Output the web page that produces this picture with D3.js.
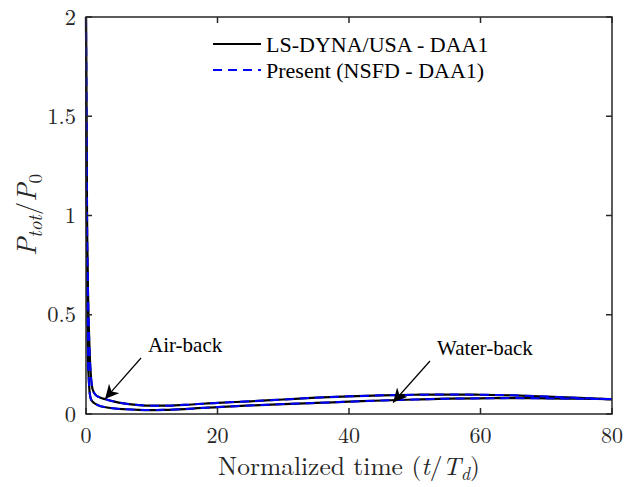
<!DOCTYPE html>
<html><head><meta charset="utf-8">
<script src="https://cdn.jsdelivr.net/npm/d3@7"></script>
<style>body{margin:0;background:#fff;}</style></head>
<body><svg id="c" width="643" height="487"></svg>
<script>
// ---- data ----
const timeAir = [0,0.05,0.1,0.2,0.3,0.4,0.5,0.6,0.8,1,1.5,2,3,4,6,8,10,12,15,20,25,30,35,40,45,50,55,60,65,70,75,80];
const ptotAir = [2.0,1.6,1.25,0.85,0.62,0.47,0.36,0.27,0.17,0.125,0.095,0.085,0.074,0.065,0.052,0.045,0.042,0.042,0.046,0.056,0.064,0.073,0.082,0.089,0.094,0.097,0.098,0.097,0.094,0.088,0.081,0.074];
const timeWater = [0,0.05,0.1,0.2,0.3,0.4,0.5,0.7,1,1.5,2,3,4,6,8,10,12,15,20,25,30,35,40,45,50,55,60,65,70,75,80];
const ptotWater = [2.0,1.5,1.1,0.6,0.28,0.19,0.13,0.08,0.062,0.05,0.042,0.034,0.029,0.024,0.021,0.02,0.021,0.025,0.035,0.043,0.05,0.056,0.062,0.068,0.073,0.077,0.079,0.08,0.079,0.077,0.075];
const xTicks = [0,20,40,60,80];
const yTicks = [0,0.5,1,1.5,2];
const yTickLabels = ["0","0.5","1","1.5","2"];
const legendLabels = ["LS-DYNA/USA - DAA1","Present (NSFD - DAA1)"];
const annotations = [
  {label:"Air-back", t:2.9, v:0.076},
  {label:"Water-back", t:46.7, v:0.058}
];

// ---- layout ----
const svg = d3.select("#c");
const L=86, R=612, T=17, B=414;
const x = d3.scaleLinear().domain([0,80]).range([L,R]);
const y = d3.scaleLinear().domain([0,2]).range([B,T]);
const LM = "'Latin Modern Roman'";
const TM = "'Liberation Serif'";

const line = d3.line().x(d=>x(d[0])).y(d=>y(d[1])).curve(d3.curveMonotoneX);
const series = [d3.zip(timeAir,ptotAir), d3.zip(timeWater,ptotWater)];

const g = svg.append("g");
series.forEach(s=>{
  g.append("path").attr("d",line(s)).attr("fill","none").attr("stroke","#000").attr("stroke-width",2.2);
});
series.forEach(s=>{
  g.append("path").attr("d",line(s)).attr("fill","none").attr("stroke","#0000ff").attr("stroke-width",2).attr("stroke-dasharray","9,6");
});

// axes box
const ax = svg.append("g");
ax.append("rect").attr("x",L).attr("y",T).attr("width",R-L).attr("height",B-T)
  .attr("fill","none").attr("stroke","#262626").attr("stroke-width",1.5);
const tl=6;
xTicks.forEach(t=>{
  ax.append("line").attr("x1",x(t)).attr("x2",x(t)).attr("y1",B).attr("y2",B-tl).attr("stroke","#262626").attr("stroke-width",1.5);
  ax.append("line").attr("x1",x(t)).attr("x2",x(t)).attr("y1",T).attr("y2",T+tl).attr("stroke","#262626").attr("stroke-width",1.5);
  ax.append("text").attr("x",x(t)).attr("y",443).attr("text-anchor","middle").attr("font-family",LM).attr("font-size",22).attr("fill","#262626").text(t);
});
yTicks.forEach((t,i)=>{
  ax.append("line").attr("x1",L).attr("x2",L+tl).attr("y1",y(t)).attr("y2",y(t)).attr("stroke","#262626").attr("stroke-width",1.5);
  ax.append("line").attr("x1",R).attr("x2",R-tl).attr("y1",y(t)).attr("y2",y(t)).attr("stroke","#262626").attr("stroke-width",1.5);
  ax.append("text").attr("x",L-10).attr("y",y(t)+7.5).attr("text-anchor","end").attr("font-family",LM).attr("font-size",22.5).attr("fill","#262626").text(yTickLabels[i]);
});

// x label
const xl = ax.append("text").attr("x",(L+R)/2).attr("y",475).attr("text-anchor","middle").attr("font-family",LM).attr("font-size",25.5).attr("fill","#262626");
xl.append("tspan").text("Normalized time (");
xl.append("tspan").attr("font-style","italic").text("t");
xl.append("tspan").text("/");
xl.append("tspan").attr("font-style","italic").text("T");
xl.append("tspan").attr("font-style","italic").attr("font-size",18).attr("dy",5).text("d");
xl.append("tspan").attr("dy",-5).text(")");

// y label
const yl = ax.append("text").attr("transform","translate(36,215) rotate(-90)").attr("text-anchor","middle").attr("font-family",LM).attr("font-size",27).attr("fill","#262626");
yl.append("tspan").attr("font-style","italic").text("P");
yl.append("tspan").attr("font-style","italic").attr("font-size",19).attr("dy",6).text("tot");
yl.append("tspan").attr("dy",-6).text("/");
yl.append("tspan").attr("font-style","italic").text("P");
yl.append("tspan").attr("font-size",19).attr("dy",6).text("0");

// legend
const lg = svg.append("g");
const legY=[44,70];
lg.append("line").attr("x1",213).attr("x2",261).attr("y1",legY[0]).attr("y2",legY[0]).attr("stroke","#000").attr("stroke-width",2.2);
lg.append("line").attr("x1",213).attr("x2",261).attr("y1",legY[1]).attr("y2",legY[1]).attr("stroke","#0000ff").attr("stroke-width",2).attr("stroke-dasharray","9,6");
legendLabels.forEach((lab,i)=>{
  lg.append("text").attr("x",266).attr("y",legY[i]+8).style("font-family",TM).style("font-size","22px").text(lab);
});

// annotations
svg.append("defs").append("marker").attr("id","ah").attr("viewBox","0 0 10 10").attr("refX",10).attr("refY",5)
  .attr("markerWidth",14).attr("markerHeight",14).attr("markerUnits","userSpaceOnUse").attr("orient","auto")
  .append("path").attr("d","M0,0 L10,5 L0,10 L3,5 Z").attr("fill","#000");
const annPos=[{tx:148,ty:352,ax:141,ay:358},{tx:437,ty:355,ax:430,ay:361}];
annotations.forEach((a,i)=>{
  const p=annPos[i];
  svg.append("line").attr("x1",p.ax).attr("y1",p.ay).attr("x2",x(a.t)).attr("y2",y(a.v))
    .attr("stroke","#000").attr("stroke-width",1.2).attr("marker-end","url(#ah)");
  svg.append("text").attr("x",p.tx).attr("y",p.ty).style("font-family",TM).style("font-size","21px").text(a.label);
});
</script></body></html>
